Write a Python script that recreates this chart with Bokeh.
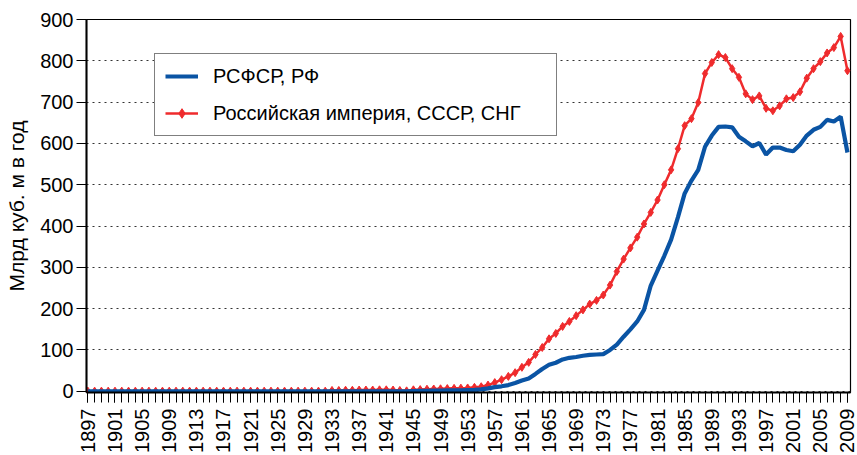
from math import pi
from bokeh.plotting import figure
from bokeh.models import Range1d, FixedTicker, Legend, LegendItem
from bokeh.embed import file_html
from bokeh.resources import INLINE

years = list(range(1897, 2010))

# РСФСР, РФ (млрд куб. м)
rsfsr = [
    0, 0, 0, 0, 0, 0, 0, 0, 0, 0, 0, 0, 0, 0, 0, 0,            # 1897-1912
    0, 0, 0, 0, 0, 0, 0, 0, 0, 0, 0, 0, 0, 0, 0, 0,            # 1913-1928
    0, 0, 0, 0, 0, 0, 0, 0, 0, 0, 0, 0, 0, 0, 0, 0,            # 1929-1944
    0.5, 1, 1, 1.5, 1.5, 2, 2, 2.5, 3, 3.5,                    # 1945-1954
    4.5, 7, 10, 12, 15, 20, 26, 31, 42, 54,                    # 1955-1964
    64, 69, 77, 81, 83, 86, 88, 89, 90, 100,                   # 1965-1974
    113, 132, 150, 169, 197, 256, 292, 328, 367, 421,          # 1975-1984
    479, 510, 536, 592, 619, 640, 641, 639, 616, 605,          # 1985-1994
    593, 601, 573, 590, 590, 584, 581, 597, 619, 633,          # 1995-2004
    640, 657, 653, 665, 578,                                   # 2005-2009
]

# Российская империя, СССР, СНГ (млрд куб. м)
ussr = [
    0.3, 0.3, 0.3, 0.3, 0.3, 0.3, 0.3, 0.3, 0.3, 0.3, 0.3, 0.3,  # 1897-1908
    0.3, 0.3, 0.3, 0.3, 0.3, 0.3, 0.3, 0.3, 0.3, 0.3, 0.3, 0.3,  # 1909-1920
    0.3, 0.3, 0.3, 0.3, 0.3, 0.3, 0.3, 0.3, 0.3, 0.3, 0.3, 0.3,  # 1921-1932
    2, 2, 2.5, 2.5, 3, 3, 3, 3.5, 3.5, 3, 2, 1,                  # 1933-1944
    3.5, 4, 5, 5.5, 6, 6.5, 7, 7.5, 8, 9.5,                      # 1945-1954
    11, 15, 21, 28, 36, 45, 58, 70, 89, 106,                     # 1955-1964
    127, 140, 157, 169, 183, 197, 211, 220, 233, 257,            # 1965-1974
    290, 320, 347, 373, 405, 433, 463, 500, 536, 587,            # 1975-1984
    643, 660, 699, 769, 796, 815, 808, 781, 760, 720,            # 1985-1994
    706, 715, 685, 679, 691, 708, 711, 725, 758, 781,            # 1995-2004
    798, 819, 832, 859, 776,                                     # 2005-2009
]

x_tick_years = list(range(1897, 2010, 4))
y_ticks = [0, 100, 200, 300, 400, 500, 600, 700, 800, 900]

label_rsfsr = "РСФСР, РФ"
label_ussr = "Российская империя, СССР, СНГ"
y_title = "Млрд куб. м в год"

assert len(rsfsr) == len(years) and len(ussr) == len(years)

BLUE = "#0A54A4"
RED = "#EF2B2D"
FONT = "Liberation Sans"

p = figure(width=857, height=455, output_backend="svg", toolbar_location=None,
           x_range=Range1d(1896.8, 2009.45), y_range=Range1d(-3, 900),
           min_border_left=86, min_border_right=7, min_border_top=19,
           min_border_bottom=63)

p.outline_line_color = "black"
p.outline_line_width = 1.2
p.background_fill_color = "white"
p.border_fill_color = "white"

red_line = p.line(years, ussr, line_color=RED, line_width=2.5)
red_pts = p.scatter(years, ussr, marker="diamond", size=8, fill_color=RED,
                    line_color=RED)
blue_line = p.line(years, rsfsr, line_color=BLUE, line_width=4.2)

# x axis
xa = p.xaxis[0]
xa.ticker = FixedTicker(ticks=x_tick_years, minor_ticks=years)
xa.major_label_orientation = pi / 2
xa.major_tick_out = 10
xa.major_tick_in = 0
xa.minor_tick_out = 10
xa.minor_tick_in = 0
xa.major_tick_line_color = "black"
xa.minor_tick_line_color = "black"
xa.axis_line_color = "black"
xa.axis_line_width = 2
xa.major_label_text_font = FONT
xa.major_label_text_font_size = "20px"
xa.major_label_text_color = "black"
xa.major_label_standoff = 6

# y axis
ya = p.yaxis[0]
ya.ticker = FixedTicker(ticks=y_ticks)
ya.major_tick_out = 10
ya.major_tick_in = 0
ya.minor_tick_line_color = None
ya.major_tick_line_color = "black"
ya.axis_line_color = "black"
ya.axis_line_width = 2
ya.major_label_text_font = FONT
ya.major_label_text_font_size = "20px"
ya.major_label_text_color = "black"
ya.major_label_standoff = 3
ya.axis_label = y_title
ya.axis_label_text_font = FONT
ya.axis_label_text_font_size = "21px"
ya.axis_label_text_font_style = "normal"
ya.axis_label_text_color = "black"
ya.axis_label_standoff = 9

p.xgrid.visible = False
p.ygrid.grid_line_color = "#333333"
p.ygrid.grid_line_dash = "2 4"
p.ygrid.grid_line_width = 1.2

legend = Legend(items=[
    LegendItem(label=label_rsfsr, renderers=[blue_line]),
    LegendItem(label=label_ussr, renderers=[red_line, red_pts]),
], location=(68, 256))
legend.padding = 10
legend.spacing = 13
legend.margin = 0
legend.glyph_width = 33
legend.glyph_height = 24
legend.label_height = 24
legend.label_standoff = 15
legend.label_width = 333
legend.label_text_font = FONT
legend.label_text_font_size = "20px"
legend.label_text_color = "black"
legend.border_line_color = "black"
legend.border_line_width = 1.5
legend.background_fill_color = "white"
legend.background_fill_alpha = 1
p.add_layout(legend)

open("out.html", "w").write(file_html(p, INLINE))
